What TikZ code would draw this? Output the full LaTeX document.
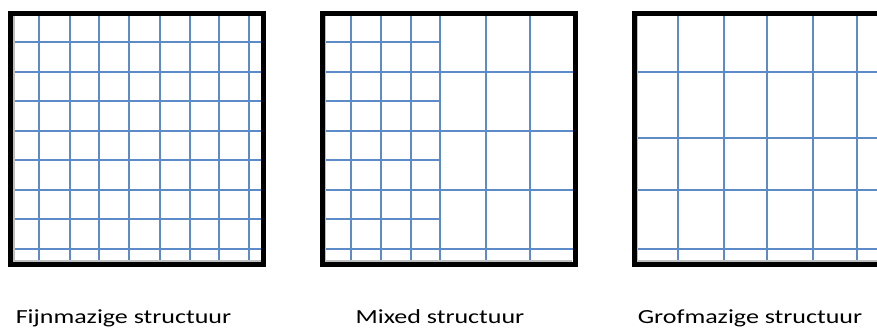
\documentclass[tikz,border=0pt]{standalone}
\usepackage{fontspec}
\setmainfont{Carlito}
\definecolor{gridblue}{RGB}{92,139,199}
\definecolor{shadowgray}{RGB}{190,190,190}
\tikzset{
  gridline/.style={draw=gridblue,line width=1.8pt},
  frame/.style={draw=black,line width=5pt,line join=miter},
  shadowline/.style={draw=shadowgray,line width=1.5pt},
  caption/.style={anchor=base,inner sep=0pt,font=\fontsize{20}{24}\selectfont,xscale=1.3,text=black}
}
\begin{document}
\begin{tikzpicture}[x=1pt,y=-1pt]
\useasboundingbox (0,0) rectangle (877,329);
\clip (0,0) rectangle (877,329);
\fill[white] (0,0) rectangle (877,329);

% ---------- Square 1: fine ----------
\foreach \x in {39.3,70,99.3,129.3,160,190,219.3,249.3}
  \draw[gridline] (\x,14) -- (\x,264);
\foreach \y in {42.3,71.7,100.7,130.7,160,190,219.3,248.7}
  \draw[gridline] (10.3,\y) -- (263.7,\y);
\draw[shadowline] (13.8,16) -- (13.8,260.8) -- (261,260.8);
\draw[frame] (10.3,14) rectangle (263.7,264);

% ---------- Square 2: mixed ----------
\foreach \x in {350.7,380.7,410.7,440,485.7,530}
  \draw[gridline] (\x,14) -- (\x,264);
\foreach \y in {71.7,130.7,190,248.7}
  \draw[gridline] (322,\y) -- (575,\y);
\foreach \y in {42.3,100.7,160,219.3}
  \draw[gridline] (322,\y) -- (440,\y);
\draw[shadowline] (325.5,16) -- (325.5,260.8) -- (572,260.8);
\draw[frame] (322,14) rectangle (575,264);

% ---------- Square 3: coarse ----------
\foreach \x in {678.3,723.7,767.3,812.7,856.7}
  \draw[gridline] (\x,14) -- (\x,264);
\foreach \y in {71.7,138.3,190,248.7}
  \draw[gridline] (634,\y) -- (887,\y);
\draw[shadowline] (637.5,16) -- (637.5,260.8) -- (884,260.8);
\draw[frame] (634,14) rectangle (887,264);

% ---------- Captions ----------
\node[caption] (lab1) at (123.5,323) {Fijnmazige structuur};
\node[caption] (lab2) at (440,323) {Mixed structuur};
\node[caption] (lab3) at (750,323) {Grofmazige structuur};
\end{tikzpicture}
\end{document}
